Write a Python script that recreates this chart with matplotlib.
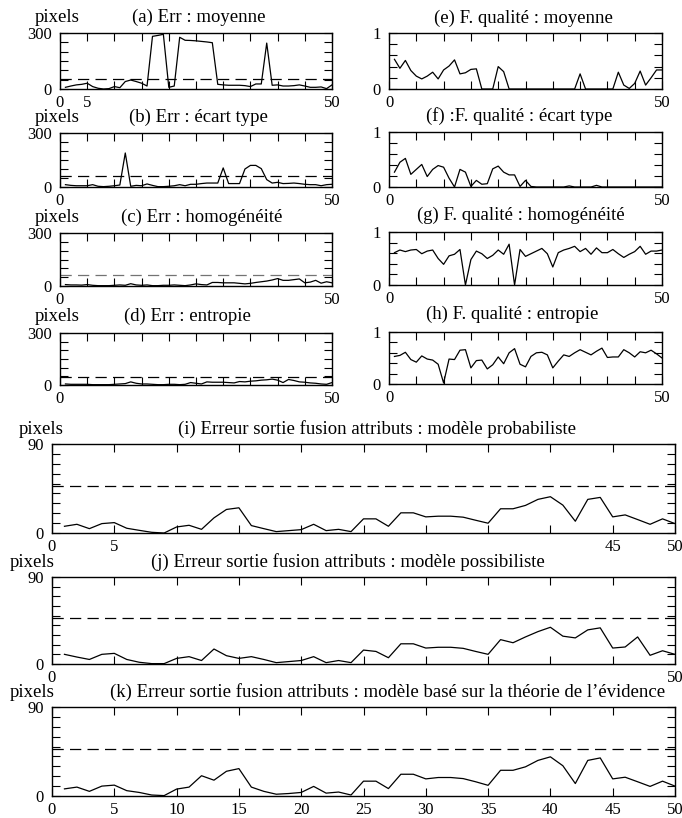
import matplotlib.pyplot as plt
import numpy as np

plt.rcParams['font.family'] = ['Liberation Serif', 'DejaVu Serif']

x = np.arange(1, 51)

# (a)-(d) erreur en pixels par attribut
err_moyenne = [9, 16, 22, 25, 31, 13, 4, 0, 2, 13, 7, 40, 48, 40, 31, 16, 282, 287, 293, 9,
               16, 277, 261, 260, 258, 255, 252, 248, 25, 22, 20, 20, 20, 18, 13, 27, 27, 246, 20, 22,
               16, 16, 18, 22, 16, 9, 9, 11, 2, 22]
err_ecart = [13, 9, 7, 7, 7, 13, 4, 2, 4, 7, 11, 189, 4, 9, 7, 17, 9, 2, 2, 4,
             7, 13, 7, 15, 15, 19, 22, 22, 22, 106, 19, 19, 19, 100, 120, 120, 102, 41, 22, 26,
             19, 20, 22, 19, 15, 13, 13, 7, 13, 15]
err_homog = [8, 6, 6, 5, 8, 4, 2, 2, 2, 4, 6, 4, 13, 6, 4, 6, 2, 2, 4, 4,
             6, 4, 2, 6, 12, 8, 6, 20, 20, 18, 18, 18, 15, 12, 15, 20, 24, 28, 34, 42,
             32, 32, 36, 40, 18, 22, 32, 16, 24, 18]
err_entropie = [6, 4, 4, 4, 4, 2, 2, 2, 2, 4, 6, 8, 18, 10, 6, 6, 4, 2, 2, 4,
                4, 2, 4, 14, 10, 6, 18, 16, 16, 16, 14, 12, 20, 18, 22, 24, 28, 30, 34, 28,
                14, 32, 26, 18, 16, 12, 10, 6, 4, 14]
seuil_err = [54, 59, 61, 45]

# (e)-(h) facteur de qualite
fq_moyenne = [0.53, 0.37, 0.51, 0.33, 0.23, 0.18, 0.23, 0.30, 0.18, 0.34,
              0.41, 0.52, 0.27, 0.29, 0.35, 0.36, 0, 0, 0, 0.40,
              0.31, 0, 0, 0, 0, 0, 0, 0, 0, 0,
              0, 0, 0, 0, 0.27, 0, 0, 0, 0, 0,
              0, 0.30, 0.07, 0.01, 0.10, 0.32, 0.07, 0.20, 0.34, 0.34]
fq_ecart = [0.27, 0.45, 0.52, 0.23, 0.32, 0.41, 0.19, 0.32, 0.39, 0.36,
            0.16, 0, 0.32, 0.27, 0.01, 0.12, 0.05, 0.06, 0.33, 0.38,
            0.27, 0.22, 0.22, 0.01, 0.12, 0.01, 0, 0, 0, 0,
            0, 0, 0.02, 0, 0, 0, 0, 0.03, 0, 0,
            0, 0, 0, 0, 0, 0, 0, 0, 0, 0]
fq_homog = [0.61, 0.66, 0.63, 0.66, 0.67, 0.59, 0.64, 0.66, 0.50, 0.39,
            0.55, 0.58, 0.67, 0, 0.48, 0.64, 0.59, 0.50, 0.56, 0.66,
            0.58, 0.77, 0, 0.67, 0.54, 0.59, 0.64, 0.69, 0.59, 0.34,
            0.61, 0.66, 0.69, 0.73, 0.63, 0.69, 0.58, 0.70, 0.61, 0.61,
            0.67, 0.59, 0.52, 0.58, 0.63, 0.73, 0.58, 0.64, 0.64, 0.66]
fq_entropie = [0.53, 0.55, 0.61, 0.47, 0.42, 0.54, 0.48, 0.46, 0.38, 0.02,
               0.48, 0.47, 0.65, 0.66, 0.31, 0.45, 0.46, 0.29, 0.37, 0.52,
               0.39, 0.60, 0.68, 0.38, 0.33, 0.53, 0.60, 0.61, 0.56, 0.31,
               0.44, 0.56, 0.53, 0.60, 0.66, 0.61, 0.56, 0.63, 0.69, 0.51,
               0.52, 0.52, 0.66, 0.60, 0.52, 0.62, 0.60, 0.65, 0.58, 0.50]

# (i)-(k) erreur en sortie de fusion
fus_proba = [6.8, 8.8, 4.4, 9.5, 10.5, 4.8, 2.7, 0.7, 0, 6.1,
             7.8, 3.7, 15.3, 23.8, 25.5, 7.5, 4.4, 1.4, 2.4, 3.4,
             8.8, 2.4, 3.7, 1.4, 14.3, 14.3, 6.8, 20.4, 20.4, 16.3,
             17, 17, 16, 12.9, 9.9, 24.5, 24.5, 27.9, 34, 36.7,
             28.2, 11.9, 34, 36, 16.3, 18.3, 13.6, 8.8, 14.3, 9.5]
fus_possib = [10, 7.2, 4.7, 10, 11, 4.7, 1.8, 0.4, 0.4, 5.8,
              7.6, 3.6, 15.5, 8.6, 5.8, 7.6, 4.7, 1.4, 2.5, 3.6,
              7.6, 1.4, 3.6, 1.4, 14.4, 13, 6.5, 20.9, 20.9, 16.5,
              17.3, 17.3, 16.2, 13, 10, 25.2, 22, 28, 33.5, 38,
              28.8, 27, 35.3, 37.4, 16.5, 17.6, 28, 9, 13.7, 10]
fus_evid = [7.2, 9, 4.7, 10, 11, 5.4, 3.6, 1, 0.4, 7,
            9, 20.5, 16, 25, 27.7, 9, 4.7, 1.8, 2.5, 3.6,
            9.7, 2.9, 4, 1, 15, 15, 7.5, 22, 22, 17.3,
            18.7, 18.7, 17.6, 14.4, 10.8, 26, 26, 29.5, 36, 39.6,
            30.6, 12.6, 36, 38.5, 17.3, 19, 14.4, 9.7, 15, 10]
seuil_fus = 48

W, H = 682, 818
fig = plt.figure(figsize=(W / 100, H / 100), dpi=100)


def panel(box, y, ymax, ystep, thr, title, tx, base, xlab, px=None, thr_color='k'):
    x0, y0, x1, y1 = box
    ax = fig.add_axes([x0 / W, 1 - y1 / H, (x1 - x0) / W, (y1 - y0) / H])
    ax.plot(x, y, color='k', lw=0.9)
    if thr is not None:
        ax.axhline(thr, color=thr_color, lw=0.9, ls=(0, (9, 5)))
    ax.set_xlim(0, 50)
    ax.set_ylim(0, ymax)
    xt = list(range(0, 51, 5))
    ax.set_xticks(xt)
    ax.set_xticklabels([str(v) if v in xlab else '' for v in xt])
    yt = np.arange(0, ymax + ystep / 2, ystep)
    ax.set_yticks(yt)
    top = str(int(ymax)) if ymax != 1 else '1'
    ax.set_yticklabels(['0'] + [''] * (len(yt) - 2) + [top])
    ax.tick_params(direction='in', top=True, right=True, length=6, width=0.8,
                   labelsize=12, color='k')
    ax.tick_params(axis='y', pad=6)
    ax.tick_params(axis='x', pad=4)
    for s in ax.spines.values():
        s.set_linewidth(1.0)
    fig.text(tx / W, 1 - base / H, title, ha='center', va='baseline', fontsize=13.5)
    if px is not None:
        fig.text(px / W, 1 - base / H, 'pixels', ha='center', va='baseline', fontsize=13.5)
    return ax


panel((60, 33, 332, 89), err_moyenne, 300, 50, seuil_err[0], '(a) Err : moyenne', 199, 22, [0, 5, 50], 57)
panel((60, 133, 332, 187), err_ecart, 300, 50, seuil_err[1], '(b) Err : écart type', 198, 122, [0, 50], 57)
panel((60, 233, 332, 286), err_homog, 300, 50, seuil_err[2], '(c) Err : homogénéité', 202, 222, [0, 50], 57,
      thr_color='0.45')
panel((60, 333, 332, 385), err_entropie, 300, 50, seuil_err[3], '(d) Err : entropie', 187, 321, [0, 50], 57)

panel((389, 33, 662, 89), fq_moyenne, 1, 0.2, None, '(e) F. qualité : moyenne', 523, 23, [0, 50])
panel((389, 132, 662, 187), fq_ecart, 1, 0.2, None, '(f) :F. qualité : écart type', 519, 121, [0, 50])
panel((389, 232, 662, 285), fq_homog, 1, 0.2, None, '(g) F. qualité : homogénéité', 521, 220, [0, 50])
panel((389, 332, 662, 384), fq_entropie, 1, 0.2, None, '(h) F. qualité : entropie', 512, 319, [0, 50])

panel((52, 444, 675, 533), fus_proba, 90, 10, seuil_fus,
      '(i) Erreur sortie fusion attributs : modèle probabiliste', 377, 434, [0, 5, 45, 50], 41)
panel((52, 577, 675, 664), fus_possib, 90, 10, seuil_fus,
      '(j) Erreur sortie fusion attributs : modèle possibiliste', 348, 567, [0, 50], 32)
panel((52, 707, 675, 796), fus_evid, 90, 10, seuil_fus,
      "(k) Erreur sortie fusion attributs : modèle basé sur la théorie de l’évidence", 388, 697,
      list(range(0, 51, 5)), 32)

fig.savefig('out.png', dpi=100)
